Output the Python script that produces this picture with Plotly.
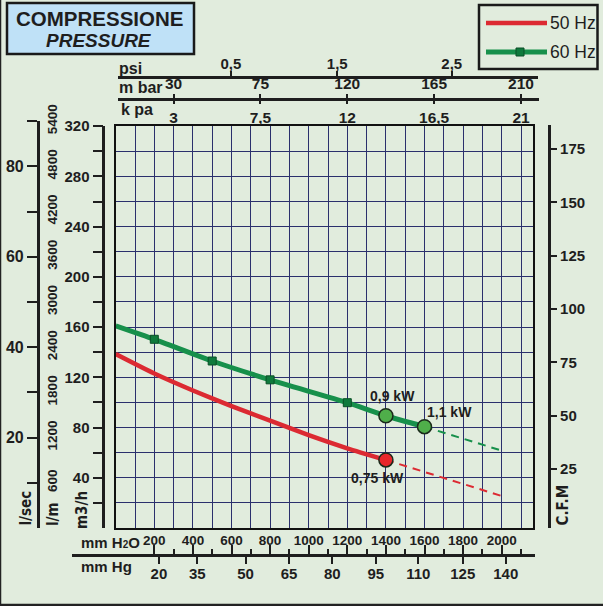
import plotly.graph_objects as go

W, H = 603, 606
BG = "#E1ECDD"
GRID = "#2A2F6C"
INK = "#1E1E1E"
RED = "#DC2A32"
GREEN = "#17904B"
NARROW = "Liberation Sans Narrow, Arial Narrow, DejaVu Sans Condensed, sans-serif"
SANS = "Liberation Sans, Arial, sans-serif"

# ---------------- data (flow m3/h vs pressure mm H2O) ----------------
RED_H2O = [0, 200, 400, 600, 800, 1000, 1200, 1400]
RED_Q = [138.5, 123, 109.5, 97, 85.5, 74, 63.5, 54.2]
RED_EXT_H2O = [1400, 2000]
RED_EXT_Q = [54.2, 25.5]

GREEN_H2O = [0, 200, 500, 800, 1200, 1400, 1600]
GREEN_Q = [161, 150.3, 133, 118, 99.8, 89.4, 80.7]
GREEN_MARK_H2O = [200, 500, 800, 1200]
GREEN_MARK_Q = [150.3, 133, 118, 99.8]
GREEN_EXT_H2O = [1600, 2000]
GREEN_EXT_Q = [80.7, 61.6]

POWER_LABELS = ["0,9 kW", "1,1 kW", "0,75 kW"]
POWER_H2O = [1400, 1600, 1400]
POWER_Q = [89.4, 80.7, 54.2]
POWER_SERIES = ["60", "60", "50"]

# ---------------- tick labels ----------------
H2O_TICKS = [200, 400, 600, 800, 1000, 1200, 1400, 1600, 1800, 2000]
H2O_MINOR = [300, 500, 700, 900, 1100, 1300, 1500, 1700, 1900, 2100]
MMHG_LABELS = ["20", "35", "50", "65", "80", "95", "110", "125", "140"]
MMHG_AT_H2O = [224, 423, 673, 898, 1122, 1348, 1568, 1798, 2021]
PSI_LABELS = ["0,5", "1,5", "2,5"]
PSI_AT_H2O = [597, 1148, 1741]
MBAR_LABELS = ["30", "75", "120", "165", "210"]
KPA_LABELS = ["3", "7,5", "12", "16,5", "21"]
MBAR_AT_H2O = [300, 750, 1200, 1650, 2100]
Q_TICKS = [20, 40, 60, 80, 100, 120, 140, 160, 180, 200, 220, 240, 260, 280, 300, 320]
Q_LABELS = ["", "40", "", "80", "", "120", "", "160", "", "200", "", "240", "", "280", "", "320"]
LSEC_TICKS = [10, 20, 30, 40, 50, 60, 70, 80, 90]
LSEC_LABELS = ["", "20", "", "40", "", "60", "", "80", ""]
LM_TICKS = [600, 1200, 1800, 2400, 3000, 3600, 4200, 4800, 5400]
CFM_TICKS = [25, 50, 75, 100, 125, 150, 175]

# ---------------- pixel geometry helpers ----------------
X0PX, XSC = 115.7, 0.193      # px of 0 mm H2O, px per mm H2O
Y0PX, YSC = 528.0, 1.2556     # px of 0 m3/h, px per m3/h
X_MAX, Q_MAX = 2160, 320


def px(x):
    return x / W


def py(y):
    return 1 - y / H


def xdom(a, b):
    return [px(a), px(b)]


def xrng(a, b):
    return [(a - X0PX) / XSC, (b - X0PX) / XSC]


def ydom(top, bot):
    return [py(bot), py(top)]


def bold(labels):
    return ["<b>%s</b>" % s if s else "" for s in labels]


fig = go.Figure()

# dashed extensions
fig.add_trace(go.Scatter(x=RED_EXT_H2O, y=RED_EXT_Q, mode="lines",
                         line=dict(color=RED, width=2, dash="8px,6px"),
                         showlegend=False, hoverinfo="skip"))
fig.add_trace(go.Scatter(x=GREEN_EXT_H2O, y=GREEN_EXT_Q, mode="lines",
                         line=dict(color=GREEN, width=2, dash="8px,6px"),
                         showlegend=False, hoverinfo="skip"))
# main curves
fig.add_trace(go.Scatter(x=RED_H2O, y=RED_Q, mode="lines", name="50 Hz",
                         line=dict(color=RED, width=4.5, shape="spline", smoothing=0.6),
                         showlegend=False))
fig.add_trace(go.Scatter(x=GREEN_H2O, y=GREEN_Q, mode="lines", name="60 Hz",
                         line=dict(color=GREEN, width=5, shape="spline", smoothing=0.6),
                         showlegend=False))
fig.add_trace(go.Scatter(x=GREEN_MARK_H2O, y=GREEN_MARK_Q, mode="markers",
                         marker=dict(symbol="square", size=8, color="#0F7A3C",
                                     line=dict(color="#0A4F26", width=1)),
                         showlegend=False, hoverinfo="skip"))
# power points
fig.add_trace(go.Scatter(
    x=POWER_H2O, y=POWER_Q, mode="markers",
    marker=dict(size=14, color=["#4FAE4A" if s == "60" else "#E8262B" for s in POWER_SERIES],
                line=dict(color="#1A2A1A", width=1.5)),
    showlegend=False, hoverinfo="skip"))

label_shift = {"0,9 kW": (7, 20), "1,1 kW": (25, 15), "0,75 kW": (-8, -18)}
for lab, xv, yv in zip(POWER_LABELS, POWER_H2O, POWER_Q):
    dx, dy = label_shift[lab]
    fig.add_annotation(x=xv, y=yv, xref="x", yref="y", text="<b>%s</b>" % lab, showarrow=False,
                       xshift=dx, yshift=dy,
                       font=dict(family=SANS, size=14, color=INK))

# dummy traces so that every free axis gets drawn
for xa, ya in [("x2", "y9"), ("x3", "y9"), ("x4", "y9"), ("x5", "y9"), ("x6", "y9"),
               ("x9", "y2"), ("x9", "y3"), ("x9", "y4"), ("x9", "y5")]:
    fig.add_trace(go.Scatter(x=[None], y=[None], xaxis=xa, yaxis=ya, mode="markers",
                             showlegend=False, hoverinfo="skip"))


def tf(size):
    return dict(family=SANS, size=size, color=INK)


plot_top = Y0PX - Q_MAX * YSC
plot_right = X0PX + X_MAX * XSC

common = dict(automargin=False, showgrid=False, zeroline=False)

layout = dict(
    width=W, height=H, margin=dict(l=0, r=0, t=0, b=0, autoexpand=False),
    paper_bgcolor=BG, plot_bgcolor="rgba(0,0,0,0)",
    showlegend=False,
    xaxis=dict(domain=xdom(X0PX, plot_right), range=[0, X_MAX], anchor="y", automargin=False,
               showgrid=True, gridcolor=GRID, gridwidth=1, dtick=100, tick0=0,
               showticklabels=False, ticks="", zeroline=False,
               showline=True, mirror=True, linecolor="#111", linewidth=1.5),
    yaxis=dict(domain=ydom(plot_top, Y0PX), range=[0, Q_MAX], anchor="x", automargin=False,
               showgrid=True, gridcolor=GRID, gridwidth=1, dtick=20, tick0=0,
               showticklabels=False, ticks="", zeroline=False,
               showline=True, mirror=True, linecolor="#111", linewidth=1.5),
    # mm H2O (labels above the line)
    xaxis2=dict(domain=xdom(72, 535), range=xrng(72, 535), anchor="free", position=py(554.5),
                side="top", showline=True, tickangle=0,
                linecolor=INK, linewidth=2.5, ticks="outside", ticklen=9, tickwidth=2,
                tickcolor=INK, tickmode="array", tickvals=H2O_TICKS,
                ticktext=bold([str(v) for v in H2O_TICKS]), tickfont=tf(13.5),
                ticklabelstandoff=-6,
                minor=dict(tickmode="array", tickvals=H2O_MINOR, ticks="outside",
                           ticklen=5, tickwidth=1.5, tickcolor=INK), **common),
    # mm Hg (labels below the line)
    xaxis3=dict(domain=xdom(72, 535), range=xrng(72, 535), anchor="free", position=py(554.5),
                side="bottom", showline=False, tickangle=0,
                ticks="outside", ticklen=8, tickwidth=2, tickcolor=INK,
                tickmode="array", tickvals=MMHG_AT_H2O, ticktext=bold(MMHG_LABELS),
                tickfont=tf(15), ticklabelstandoff=-3, **common),
    # psi
    xaxis4=dict(domain=xdom(118, 538), range=xrng(118, 538), anchor="free", position=py(76.7),
                side="top", showline=True, tickangle=0,
                linecolor=INK, linewidth=2.5, ticks="outside", ticklen=5, tickwidth=1.5,
                tickcolor=INK, tickmode="array", tickvals=PSI_AT_H2O, ticktext=bold(PSI_LABELS),
                tickfont=tf(15), ticklabelstandoff=-4, **common),
    # m bar
    xaxis5=dict(domain=xdom(118, 539), range=xrng(118, 539), anchor="free", position=py(99),
                side="top", showline=True, tickangle=0,
                linecolor=INK, linewidth=2.5, ticks="outside", ticklen=4, tickwidth=1.5,
                tickcolor=INK, tickmode="array", tickvals=MBAR_AT_H2O, ticktext=bold(MBAR_LABELS),
                tickfont=tf(15.5), ticklabelstandoff=-1, **common),
    # k pa
    xaxis6=dict(domain=xdom(118, 539), range=xrng(118, 539), anchor="free", position=py(99),
                side="bottom", showline=False, tickangle=0,
                ticks="outside", ticklen=4, tickwidth=1.5, tickcolor=INK,
                tickmode="array", tickvals=MBAR_AT_H2O, ticktext=bold(KPA_LABELS),
                tickfont=tf(15.5), **common),
    xaxis9=dict(visible=False, domain=[0, 1], range=[0, 1], anchor="y9", automargin=False),
    yaxis9=dict(visible=False, domain=[0, 1], range=[0, 1], anchor="x9", automargin=False),
    # m3/h
    yaxis2=dict(domain=ydom(plot_top, Y0PX), range=[0, Q_MAX], anchor="free", position=px(103.3),
                side="left", showline=True,
                linecolor=INK, linewidth=2.5, ticks="outside", ticklen=10, tickwidth=1.5,
                tickcolor=INK, tickmode="array", tickvals=Q_TICKS, ticktext=bold(Q_LABELS),
                tickfont=tf(15), **common),
    # l/sec
    yaxis3=dict(domain=ydom(Y0PX - 90 * 3.6 * YSC, Y0PX), range=[0, 90], anchor="free",
                position=px(37.7), side="left", showline=True,
                linecolor=INK, linewidth=2.5, ticks="outside", ticklen=10, tickwidth=1.5,
                tickcolor=INK, tickmode="array", tickvals=LSEC_TICKS, ticktext=bold(LSEC_LABELS),
                tickfont=tf(16), **common),
    # l/m
    yaxis4=dict(domain=ydom(Y0PX - 90 * 3.6 * YSC, Y0PX), range=[0, 5400], anchor="free",
                position=px(37.7), side="right", showline=False,
                ticks="", tickmode="array", tickvals=LM_TICKS,
                ticktext=bold([str(v) for v in LM_TICKS]), tickangle=-90,
                tickfont=tf(13.5), ticklabelstandoff=5, **common),
    # C.F.M
    yaxis5=dict(domain=ydom(125, Y0PX), range=[-2.6, 186.3], anchor="free", position=px(549.3),
                side="right", showline=True,
                linecolor=INK, linewidth=2.5, ticks="outside", ticklen=6, tickwidth=1.5,
                tickcolor=INK, tickmode="array", tickvals=CFM_TICKS,
                ticktext=bold([str(v) for v in CFM_TICKS]), tickfont=tf(15), **common),
)
fig.update_layout(**layout)

shapes = [
    # outer border (left and bottom)
    dict(type="line", xref="paper", yref="paper", x0=px(0.5), x1=px(0.5), y0=0, y1=1,
         line=dict(color="#222", width=1.5)),
    dict(type="line", xref="paper", yref="paper", x0=0, x1=1, y0=py(605), y1=py(605),
         line=dict(color="#222", width=2.5)),
    # title box
    dict(type="rect", xref="paper", yref="paper", x0=px(7), x1=px(194), y0=py(54), y1=py(3),
         fillcolor="#BFE1F7", line=dict(color="#1A1A1A", width=2.5)),
    # legend box
    dict(type="rect", xref="paper", yref="paper", x0=px(479), x1=px(597.5), y0=py(69), y1=py(5),
         fillcolor=BG, line=dict(color="#1A1A1A", width=2.5)),
    dict(type="line", xref="paper", yref="paper", x0=px(486), x1=px(547), y0=py(23), y1=py(23),
         line=dict(color=RED, width=4.5)),
    dict(type="line", xref="paper", yref="paper", x0=px(486), x1=px(547), y0=py(52), y1=py(52),
         line=dict(color=GREEN, width=5)),
    dict(type="rect", xref="paper", yref="paper", x0=px(516), x1=px(524), y0=py(56), y1=py(48),
         fillcolor="#0F7A3C", line=dict(color="#0A4F26", width=1)),
]
fig.update_layout(shapes=shapes)


def ann(text, x, y, size=15, xanchor="left", yanchor="middle", angle=0, family=SANS,
        weight="bold", style="normal"):
    if weight == "bold":
        text = "<b>%s</b>" % text
    if style == "italic":
        text = "<i>%s</i>" % text
    fig.add_annotation(text=text, x=px(x), y=py(y), xref="paper", yref="paper",
                       showarrow=False, xanchor=xanchor, yanchor=yanchor, textangle=angle,
                       font=dict(family=family, size=size, color=INK))


ann("COMPRESSIONE", 99, 18.5, size=20.5, xanchor="center")
ann("PRESSURE", 99, 40.5, size=19, xanchor="center", style="italic")
ann("50 Hz", 548, 23, size=17.5, weight="normal")
ann("60 Hz", 548, 52, size=17.5, weight="normal")
ann("psi", 117, 68, size=16)
ann("m bar", 117, 88, size=16)
ann("k pa", 119, 110, size=16)
ann("mm H<span style='font-size:10px'>2</span>O", 79, 542.5, size=15)
ann("mm Hg", 79, 566.5, size=15)
ann("l/sec", 25, 528, size=15, xanchor="center", yanchor="bottom", angle=-90, family=NARROW)
ann("l/m", 53, 528, size=15, xanchor="center", yanchor="bottom", angle=-90, family=NARROW)
ann("m3/h", 82, 531, size=15, xanchor="center", yanchor="bottom", angle=-90, family=NARROW)
ann("C.F.M", 562, 528, size=15, xanchor="center", yanchor="bottom", angle=-90, family=NARROW)

fig.write_html("out.html")
